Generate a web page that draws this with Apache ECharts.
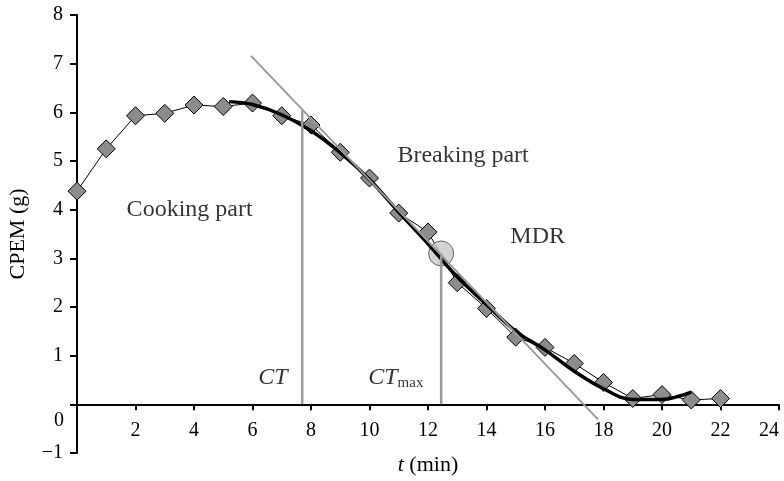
<!DOCTYPE html>
<html>
<head>
<meta charset="utf-8">
<script src="https://cdn.jsdelivr.net/npm/echarts@6/dist/echarts.min.js"></script>
<style>
  html, body { margin: 0; padding: 0; background: #fff; }
  #chart { width: 784px; height: 481px; }
</style>
</head>
<body>
<div id="chart"></div>
<script>
var xTicks = [0, 2, 4, 6, 8, 10, 12, 14, 16, 18, 20, 22, 24]
// measured CPEM (diamonds)
var timeMin = [0,1,2,3,4,5,6,7,8,9,10,11,12,13,14,15,16,17,18,19,20,21,22]
var cpem = [4.38,5.25,5.93,5.98,6.15,6.12,6.19,5.93,5.74,5.18,4.65,3.93,3.54,2.5,1.97,1.38,1.17,0.84,0.45,0.12,0.2,0.09,0.12]
// fitted curve (thick black)
var fitX = [5.2,6,7,8,9,10,11,12,13,14,15,16,17,18,19,20,20.6,21]
var fitY = [6.22,6.16,5.95,5.62,5.17,4.62,3.95,3.3,2.62,2.05,1.5,1.12,0.68,0.32,0.1,0.1,0.17,0.25]
// tangent at maximum degradation rate
var tangentX = [5.95, 17.81]
var tangentY = [7.16, -0.31]
var ct = 7.7
var ctTop = 6.03
var ctMax = 12.45
var mdrY = 3.1

var chart = echarts.init(document.getElementById('chart'))

function pairs(xs, ys) {
  var out = []
  for (var i = 0; i < xs.length; i++) out.push([xs[i], ys[i]])
  return out
}

var serif = 'Liberation Serif'
var gray = '#9a9a9a'
var gridTop = 15
var gridBottom = 28
var yMin = -1
var yMax = 8
// x axis sits on y = 0: lift it by one unit of the y scale
var unitPx = (481 - gridTop - gridBottom) / (yMax - yMin)

var option = {
  animation: false,
  textStyle: { fontFamily: serif, color: '#000' },
  grid: { left: 77, right: 5, top: gridTop, bottom: gridBottom, outerBoundsMode: 'none' },
  xAxis: {
    type: 'value',
    min: 0,
    max: 24,
    interval: 2,
    position: 'bottom',
    offset: -unitPx * (0 - yMin),
    name: '{i|t} (min)',
    nameLocation: 'middle',
    nameGap: 50,
    nameTextStyle: {
      fontFamily: serif, fontSize: 22, color: '#000',
      rich: { i: { fontFamily: serif, fontSize: 22, fontStyle: 'italic' } }
    },
    axisLine: { onZero: false, lineStyle: { color: '#000', width: 2 } },
    axisTick: { length: 6, lineStyle: { color: '#000', width: 2 } },
    axisLabel: {
      fontFamily: serif, fontSize: 20, color: '#000', margin: 16,
      alignMaxLabel: 'right',
      formatter: function (v) { return v === 0 ? '' : String(v) }
    },
    splitLine: { show: false }
  },
  yAxis: {
    type: 'value',
    min: yMin,
    max: yMax,
    interval: 1,
    name: 'CPEM (g)',
    nameLocation: 'middle',
    nameGap: 48,
    nameTextStyle: { fontFamily: serif, fontSize: 22, color: '#000' },
    axisLine: { lineStyle: { color: '#000', width: 2 } },
    axisTick: { length: 7, lineStyle: { color: '#000', width: 2 } },
    axisLabel: {
      fontFamily: serif, fontSize: 20, color: '#000', margin: 14,
      formatter: function (v) {
        if (v === 0) return ''
        return v < 0 ? '\u2212' + Math.abs(v) : String(v)
      }
    },
    splitLine: { show: false }
  },
  graphic: [
    { type: 'text', left: 54, top: 411, style: { text: '0', font: '20px "Liberation Serif"', fill: '#000' } }
  ],
  series: [
    {
      name: 'measured',
      type: 'line',
      data: pairs(timeMin, cpem),
      symbol: 'diamond',
      symbolSize: [18, 18],
      lineStyle: { color: '#000', width: 1 },
      itemStyle: { color: '#8c8c8c', borderColor: '#000', borderWidth: 1 },
      z: 2
    },
    {
      name: 'MDR',
      type: 'scatter',
      data: [[ctMax, mdrY]],
      symbol: 'circle',
      symbolSize: 25,
      itemStyle: { color: '#c8c8c8', borderColor: '#444', borderWidth: 1 },
      z: 3
    },
    {
      name: 'fit',
      type: 'line',
      data: pairs(fitX, fitY),
      smooth: 0.4,
      showSymbol: false,
      lineStyle: { color: '#000', width: 3.5 },
      z: 4
    },
    {
      name: 'tangent',
      type: 'line',
      data: pairs(tangentX, tangentY),
      showSymbol: false,
      lineStyle: { color: gray, width: 2 },
      z: 5
    },
    {
      name: 'CT',
      type: 'line',
      data: [[ct, 0], [ct, ctTop]],
      showSymbol: false,
      lineStyle: { color: gray, width: 2.5 },
      z: 5
    },
    {
      name: 'CTmax',
      type: 'line',
      data: [[ctMax, 0], [ctMax, mdrY]],
      showSymbol: false,
      lineStyle: { color: gray, width: 2.5 },
      z: 5
    },
    {
      name: 'labels',
      type: 'scatter',
      symbolSize: 0,
      silent: true,
      z: 6,
      label: {
        show: true,
        position: 'inside',
        fontFamily: serif,
        fontSize: 24,
        color: '#000',
        formatter: function (p) { return p.data[2] },
        rich: {
          it: { fontFamily: serif, fontSize: 24, fontStyle: 'italic', color: '#000' },
          sub: { fontFamily: serif, fontSize: 15, color: '#000', padding: [10, 0, 0, 0] }
        }
      },
      data: [
        [3.85, 4.0, 'Cooking part'],
        [13.2, 5.1, 'Breaking part'],
        [15.75, 3.45, 'MDR'],
        [6.7, 0.55, '{it|CT}'],
        [10.9, 0.55, '{it|CT}{sub|max}']
      ]
    }
  ]
}

chart.setOption(option)
</script>
</body>
</html>
